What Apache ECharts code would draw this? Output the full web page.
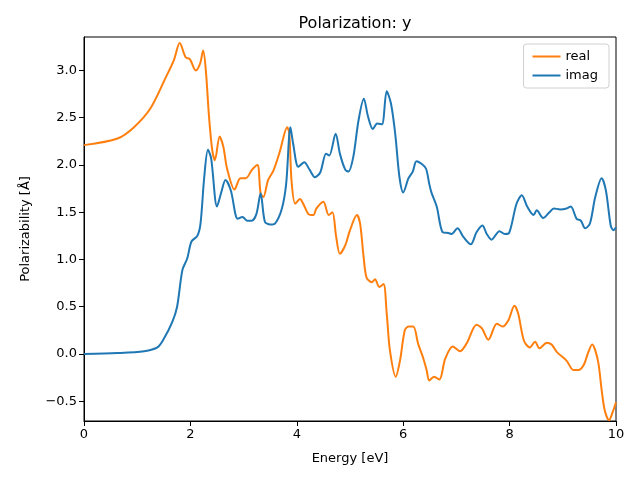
<!DOCTYPE html>
<html>
<head>
<meta charset="utf-8">
<script src="https://cdn.jsdelivr.net/npm/echarts@6/dist/echarts.min.js"></script>
<style>html,body{margin:0;padding:0;background:#fff}#c{width:640px;height:480px}</style>
</head>
<body>
<div id="c"></div>
<script>
const titleText = 'Polarization: y';
const xLabel = 'Energy [eV]';
const yLabel = 'Polarizability [Å]';
const xTicks = [0, 2, 4, 6, 8, 10];
const yTicks = [-0.5, 0.0, 0.5, 1.0, 1.5, 2.0, 2.5, 3.0];

const realX = [0, 0.63, 0.94, 1.25, 1.54, 1.69, 1.80, 1.91, 1.99, 2.10, 2.18, 2.24, 2.29, 2.35, 2.41, 2.46, 2.55, 2.62, 2.69, 2.83, 2.94, 3.04, 3.16, 3.26, 3.32, 3.37, 3.46, 3.56, 3.68, 3.82, 3.86, 3.90, 3.97, 4.06, 4.12, 4.22, 4.31, 4.37, 4.50, 4.60, 4.67, 4.74, 4.81, 4.91, 5.00, 5.13, 5.19, 5.25, 5.31, 5.41, 5.47, 5.55, 5.63, 5.69, 5.75, 5.86, 5.94, 6.03, 6.10, 6.19, 6.28, 6.38, 6.44, 6.49, 6.58, 6.68, 6.79, 6.93, 7.07, 7.19, 7.38, 7.48, 7.60, 7.76, 7.87, 7.98, 8.09, 8.16, 8.27, 8.38, 8.48, 8.56, 8.70, 8.79, 8.89, 9.07, 9.20, 9.29, 9.39, 9.48, 9.55, 9.66, 9.73, 9.79, 9.87, 9.94, 10.0];
const realY = [2.21, 2.28, 2.40, 2.60, 2.93, 3.11, 3.29, 3.14, 3.12, 3.00, 3.07, 3.21, 3.00, 2.51, 2.16, 2.05, 2.30, 2.19, 1.96, 1.74, 1.86, 1.86, 1.95, 2.00, 1.70, 1.66, 1.84, 1.94, 2.14, 2.40, 2.33, 1.84, 1.59, 1.64, 1.59, 1.48, 1.47, 1.54, 1.61, 1.47, 1.50, 1.24, 1.06, 1.15, 1.31, 1.47, 1.38, 1.06, 0.81, 0.76, 0.79, 0.71, 0.74, 0.43, 0.04, -0.24, -0.07, 0.25, 0.29, 0.29, 0.11, -0.05, -0.17, -0.28, -0.24, -0.27, -0.05, 0.08, 0.03, 0.11, 0.31, 0.27, 0.15, 0.32, 0.29, 0.36, 0.51, 0.43, 0.14, 0.07, 0.13, 0.06, 0.12, 0.10, 0.02, -0.07, -0.17, -0.17, -0.12, 0.02, 0.10, -0.07, -0.38, -0.60, -0.70, -0.61, -0.51];

const imagX = [0, 0.63, 1.13, 1.38, 1.50, 1.66, 1.75, 1.85, 1.94, 2.02, 2.13, 2.19, 2.26, 2.33, 2.39, 2.50, 2.58, 2.66, 2.76, 2.89, 2.98, 3.07, 3.15, 3.24, 3.32, 3.40, 3.50, 3.59, 3.72, 3.80, 3.88, 3.93, 4.03, 4.14, 4.24, 4.34, 4.44, 4.55, 4.61, 4.73, 4.81, 4.91, 4.97, 5.06, 5.16, 5.26, 5.34, 5.43, 5.51, 5.60, 5.69, 5.77, 5.85, 5.93, 6.00, 6.10, 6.18, 6.25, 6.35, 6.43, 6.49, 6.53, 6.63, 6.74, 6.85, 6.91, 7.02, 7.13, 7.27, 7.38, 7.49, 7.57, 7.66, 7.81, 7.91, 7.99, 8.13, 8.23, 8.33, 8.45, 8.51, 8.63, 8.75, 8.83, 8.95, 9.07, 9.15, 9.26, 9.34, 9.42, 9.51, 9.61, 9.73, 9.81, 9.90, 9.95, 10.0];
const imagY = [0.00, 0.01, 0.03, 0.07, 0.16, 0.34, 0.50, 0.89, 1.01, 1.19, 1.25, 1.38, 1.87, 2.16, 2.07, 1.56, 1.71, 1.84, 1.73, 1.43, 1.45, 1.41, 1.41, 1.48, 1.70, 1.40, 1.37, 1.38, 1.54, 1.80, 2.40, 2.23, 1.98, 2.03, 1.95, 1.87, 1.92, 2.12, 2.10, 2.33, 2.12, 1.95, 1.93, 2.08, 2.47, 2.70, 2.51, 2.38, 2.44, 2.43, 2.78, 2.65, 2.33, 1.87, 1.71, 1.86, 1.93, 2.04, 2.01, 1.96, 1.80, 1.71, 1.56, 1.29, 1.28, 1.27, 1.33, 1.24, 1.16, 1.29, 1.36, 1.27, 1.21, 1.30, 1.27, 1.28, 1.59, 1.68, 1.56, 1.47, 1.52, 1.44, 1.50, 1.54, 1.53, 1.54, 1.56, 1.43, 1.41, 1.33, 1.38, 1.66, 1.86, 1.73, 1.36, 1.31, 1.34];

const pair = (xs, ys) => xs.map((x, i) => [x, ys[i]]);
const font = 'DejaVu Sans';
const fmtY = v => (v < 0 ? '\u2212' : '') + Math.abs(v).toFixed(1);

const chart = echarts.init(document.getElementById('c'), null, {renderer: 'canvas'});
chart.setOption({
  animation: false,
  backgroundColor: '#fff',
  title: {
    text: titleText, left: 350, top: 11, textAlign: 'center',
    textStyle: {fontFamily: font, fontSize: 16, fontWeight: 'normal', color: '#000'}
  },
  legend: {
    orient: 'vertical', right: 31, top: 44,
    data: [{name: 'real', icon: 'rect'}, {name: 'imag', icon: 'rect'}],
    backgroundColor: '#fff', borderColor: '#d0d0d0', borderWidth: 1, borderRadius: 3,
    padding: [6, 11, 6, 9], itemGap: 6, itemWidth: 28, itemHeight: 2,
    textStyle: {fontFamily: font, fontSize: 13, color: '#000'}
  },
  grid: {left: 84, right: 24, top: 37, bottom: 59, show: true, borderColor: '#000', borderWidth: 1, backgroundColor: 'transparent'},
  xAxis: {
    type: 'value', min: 0, max: 10, interval: 2,
    name: xLabel, nameLocation: 'middle', nameGap: 31,
    nameTextStyle: {fontFamily: font, fontSize: 13, color: '#000'},
    axisLine: {show: true, onZero: false, lineStyle: {color: '#000', width: 1}},
    axisTick: {show: true, inside: false, length: 5, lineStyle: {color: '#000'}},
    axisLabel: {fontFamily: font, fontSize: 13, color: '#000', margin: 7},
    splitLine: {show: false}
  },
  yAxis: {
    type: 'value', min: -0.709, max: 3.354,
    name: yLabel, nameLocation: 'middle', nameGap: 52,
    nameTextStyle: {fontFamily: font, fontSize: 13, color: '#000'},
    axisLine: {show: true, onZero: false, lineStyle: {color: '#000', width: 1}},
    axisTick: {show: true, inside: false, length: 5, lineStyle: {color: '#000'}, customValues: yTicks},
    axisLabel: {fontFamily: font, fontSize: 13, color: '#000', margin: 7, customValues: yTicks, formatter: fmtY},
    splitLine: {show: false}
  },
  series: [
    {name: 'real', type: 'line', data: pair(realX, realY), symbol: 'none', smooth: 0.3,
     lineStyle: {color: '#ff7f0e', width: 2}, itemStyle: {color: '#ff7f0e'}},
    {name: 'imag', type: 'line', data: pair(imagX, imagY), symbol: 'none', smooth: 0.3,
     lineStyle: {color: '#1f77b4', width: 2}, itemStyle: {color: '#1f77b4'}}
  ]
});
</script>
</body>
</html>
